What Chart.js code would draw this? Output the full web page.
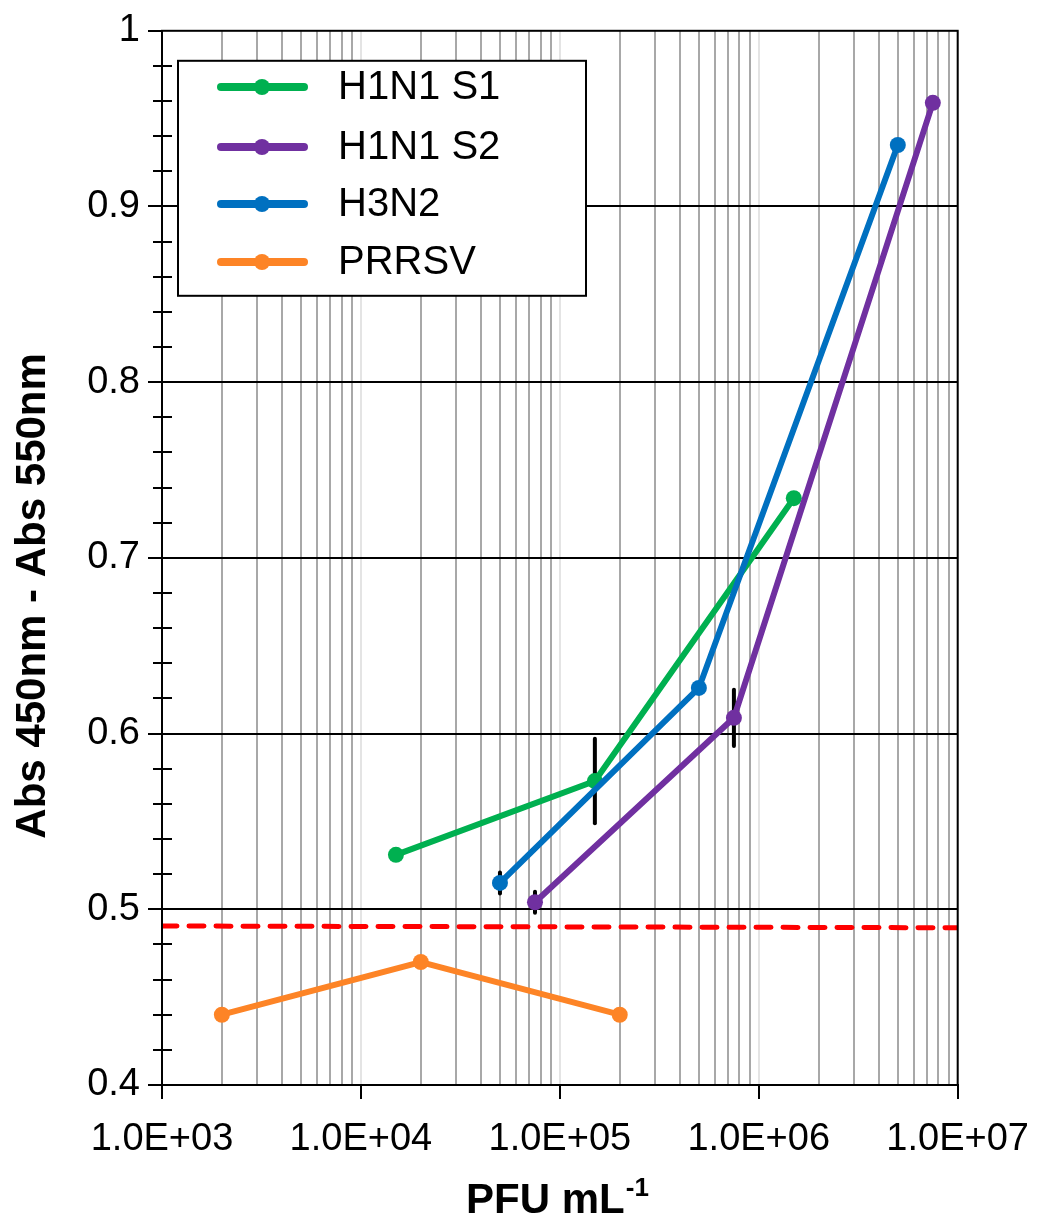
<!DOCTYPE html>
<html>
<head>
<meta charset="utf-8">
<script src="https://cdn.jsdelivr.net/npm/chart.js@4/dist/chart.umd.min.js"></script>
<style>
  html, body { margin: 0; padding: 0; background: #fff; }
  #wrap { width: 1047px; height: 1225px; position: relative; }
</style>
</head>
<body>
<div id="wrap"><canvas id="c"></canvas></div>
<script>
// ---- Data ----
const seriesNames = ['H1N1 S1', 'H1N1 S2', 'H3N2', 'PRRSV'];
const seriesColors = ['#00B050', '#7030A0', '#0070C0', '#FD8426'];

const s1X = [1.5e4, 1.5e5, 1.5e6];
const s1Y = [0.531, 0.573, 0.734];
const s1Err = [0, 0.024, 0];

const s2X = [7.5e4, 7.5e5, 7.5e6];
const s2Y = [0.504, 0.609, 0.959];
const s2Err = [0.006, 0.016, 0];

const h3X = [5e4, 5e5, 5e6];
const h3Y = [0.515, 0.626, 0.935];
const h3Err = [0.006, 0, 0];

const prX = [2e3, 2e4, 2e5];
const prY = [0.44, 0.47, 0.44];
const prErr = [0, 0, 0];

const cutoffX = [1e3, 1e7];
const cutoffY = [0.4905, 0.4895];

const xDecades = [1e3, 1e4, 1e5, 1e6, 1e7];
const xTickLabels = ['1.0E+03', '1.0E+04', '1.0E+05', '1.0E+06', '1.0E+07'];
const yMin = 0.4, yMax = 1.0, yStep = 0.02;
const xTitle = 'PFU mL';
const xTitleSup = '-1';
const yTitle = 'Abs 450nm - Abs 550nm';

// ---- Build datasets ----
const FONT = '"Liberation Sans", Arial, sans-serif';
const allX = [s1X, s2X, h3X, prX];
const allY = [s1Y, s2Y, h3Y, prY];
const allErr = [s1Err, s2Err, h3Err, prErr];

const datasets = [];
// error bars (drawn beneath)
allX.forEach((xs, si) => {
  xs.forEach((x, i) => {
    const e = allErr[si][i];
    if (e > 0) {
      datasets.push({
        label: '_err',
        data: [{x: x, y: allY[si][i] - e}, {x: x, y: allY[si][i] + e}],
        borderColor: '#000', borderWidth: 4, pointRadius: 0,
        showLine: true, order: 20, borderCapStyle: 'round'
      });
    }
  });
});
// cutoff line
datasets.push({
  label: '_cutoff',
  data: cutoffX.map((x, i) => ({x: x, y: cutoffY[i]})),
  borderColor: '#FF0000', borderWidth: 5, borderDash: [15, 12],
  borderCapStyle: 'round', pointRadius: 0, showLine: true, order: 15
});
// series
seriesNames.forEach((name, si) => {
  datasets.push({
    label: name,
    data: allX[si].map((x, i) => ({x: x, y: allY[si][i]})),
    borderColor: seriesColors[si], backgroundColor: seriesColors[si],
    borderWidth: 6, pointRadius: 8, pointHoverRadius: 8,
    pointBorderWidth: 0, showLine: true, order: 10 - si
  });
});

function isDecade(v) {
  const l = Math.log10(v);
  return Math.abs(l - Math.round(l)) < 1e-9;
}
function isMajorY(v) {
  return Math.round(v * 100) % 10 === 0;
}

const framePlugin = {
  id: 'frame',
  afterDraw(chart) {
    const ctx = chart.ctx, a = chart.chartArea;
    ctx.save();
    // frame
    ctx.strokeStyle = '#000';
    ctx.lineWidth = 2;
    ctx.strokeRect(a.left, a.top, a.right - a.left, a.bottom - a.top);
    // minor y ticks crossing the axis
    const ys = chart.scales.y;
    ys.ticks.forEach(t => {
      if (!isMajorY(t.value)) {
        const py = Math.round(ys.getPixelForValue(t.value)) + 0.0;
        ctx.beginPath();
        ctx.moveTo(a.left - 9, py);
        ctx.lineTo(a.left + 10, py);
        ctx.stroke();
      }
    });
    // legend box
    const bx = a.left + 16, by = a.top + 30, bw = 408, bh = 235;
    ctx.fillStyle = '#fff';
    ctx.fillRect(bx, by, bw, bh);
    ctx.strokeRect(bx, by, bw, bh);
    const rowY = [87, 147, 204, 262];
    seriesNames.forEach((name, i) => {
      const yy = rowY[i];
      ctx.strokeStyle = seriesColors[i];
      ctx.lineWidth = 8;
      ctx.lineCap = 'round';
      ctx.beginPath();
      ctx.moveTo(bx + 43, yy);
      ctx.lineTo(bx + 126, yy);
      ctx.stroke();
      ctx.fillStyle = seriesColors[i];
      ctx.beginPath();
      ctx.arc(bx + 84, yy, 8, 0, Math.PI * 2);
      ctx.fill();
      ctx.fillStyle = '#000';
      ctx.font = '40px ' + FONT;
      ctx.textAlign = 'left';
      ctx.textBaseline = 'middle';
      ctx.fillText(name, bx + 160, yy + 1);
    });
    // axis titles
    ctx.fillStyle = '#000';
    ctx.font = 'bold 42px ' + FONT;
    ctx.textBaseline = 'alphabetic';
    ctx.save();
    ctx.translate(45, (a.top + a.bottom) / 2 + 38);
    ctx.rotate(-Math.PI / 2);
    ctx.textAlign = 'center';
    ctx.fillText(yTitle, 0, 0);
    ctx.restore();
    const w1 = ctx.measureText(xTitle).width;
    ctx.font = 'bold 26px ' + FONT;
    const w2 = ctx.measureText(xTitleSup).width;
    const cx = 557;
    const sx = cx - (w1 + w2) / 2;
    ctx.font = 'bold 42px ' + FONT;
    ctx.textAlign = 'left';
    ctx.fillText(xTitle, sx, 1213);
    ctx.font = 'bold 26px ' + FONT;
    ctx.fillText(xTitleSup, sx + w1 + 1, 1196);
    ctx.restore();
  }
};

new Chart(document.getElementById('c'), {
  type: 'scatter',
  data: { datasets: datasets },
  options: {
    responsive: true,
    maintainAspectRatio: false,
    animation: false,
    layout: { padding: { top: 28, right: 89, left: 0, bottom: 0 } },
    plugins: {
      legend: { display: false },
      tooltip: { enabled: false },
      title: { display: false }
    },
    scales: {
      x: {
        type: 'logarithmic',
        min: 1e3, max: 1e7,
        afterBuildTicks(scale) {
          const t = [];
          for (let d = 0; d < xDecades.length; d++) {
            const base = xDecades[d];
            if (d === xDecades.length - 1) { t.push({value: base}); break; }
            for (let m = 1; m <= 9; m++) t.push({value: m * base});
          }
          scale.ticks = t;
        },
        afterFit(scale) { scale.height = 140; },
        ticks: {
          autoSkip: false, maxRotation: 0, minRotation: 0,
          padding: 18,
          color: '#000',
          font: { family: FONT, size: 38 },
          callback(v) {
            const idx = xDecades.findIndex(d => Math.abs(d - v) / d < 1e-9);
            return idx >= 0 ? xTickLabels[idx] : '';
          }
        },
        grid: {
          color(ctx) { return isDecade(ctx.tick.value) ? '#e4e4e4' : '#a8a8a8'; },
          lineWidth: 2,
          tickColor(ctx) { return isDecade(ctx.tick.value) ? '#000' : 'rgba(0,0,0,0)'; },
          tickLength: 14,
          tickWidth: 2
        },
        border: { display: true, color: '#000', width: 2 }
      },
      y: {
        type: 'linear',
        min: yMin, max: yMax,
        afterFit(scale) { scale.width = 162; },
        ticks: {
          stepSize: yStep,
          autoSkip: false,
          padding: 8,
          color: '#000',
          font: { family: FONT, size: 38 },
          callback(v) {
            if (!isMajorY(v)) return '';
            const r = Math.round(v * 10) / 10;
            return r === 1 ? '1' : r.toFixed(1);
          }
        },
        grid: {
          color(ctx) {
            const v = ctx.tick.value;
            return (isMajorY(v) && v > yMin + 1e-6 && v < yMax - 1e-6) ? '#000' : 'rgba(0,0,0,0)';
          },
          lineWidth: 2,
          tickColor(ctx) { return isMajorY(ctx.tick.value) ? '#000' : 'rgba(0,0,0,0)'; },
          tickLength: 14,
          tickWidth: 2
        },
        border: { display: true, color: '#000', width: 2 }
      }
    }
  },
  plugins: [framePlugin]
});
</script>
</body>
</html>
